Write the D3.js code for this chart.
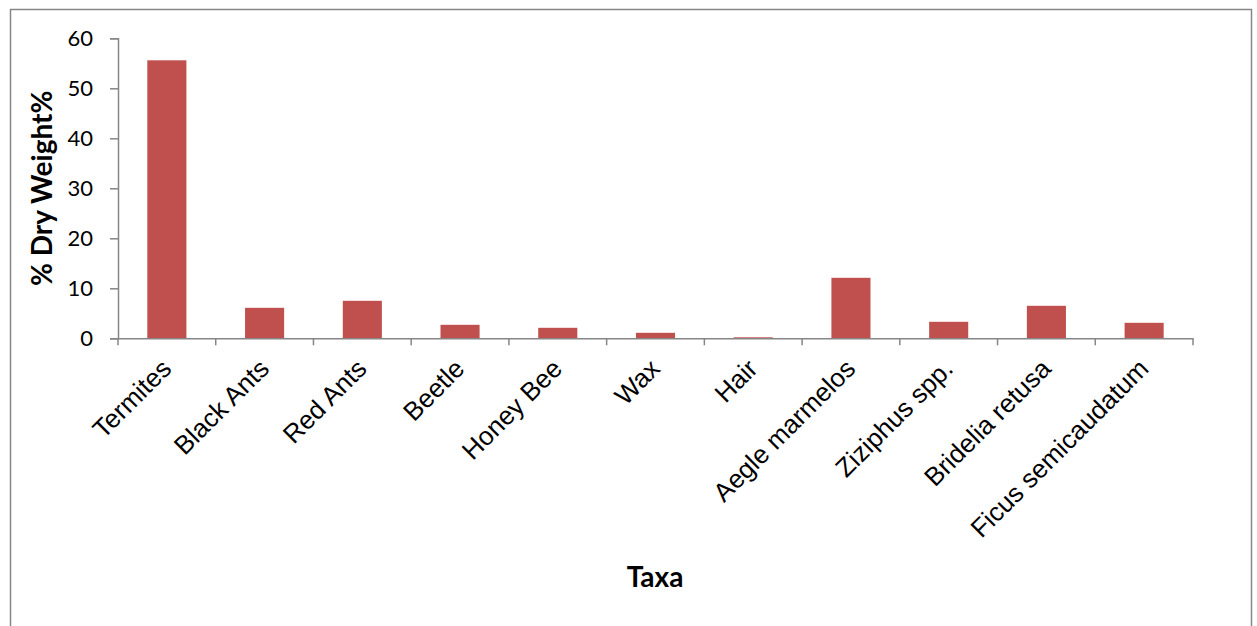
<!DOCTYPE html>
<html><head><meta charset="utf-8">
<script src="https://cdn.jsdelivr.net/npm/d3@7"></script>
<style>body{margin:0;background:#fff}svg{display:block}</style>
</head><body>
<script>
const categories = ["Termites","Black Ants","Red Ants","Beetle","Honey Bee","Wax","Hair","Aegle marmelos","Ziziphus spp.","Bridelia retusa","Ficus semicaudatum"];
const values = [55.6, 6.1, 7.5, 2.7, 2.1, 1.1, 0.2, 12.1, 3.3, 6.5, 3.1];
const yTicks = [0,10,20,30,40,50,60];
const yTitle = "% Dry Weight%";
const xTitle = "Taxa";

const W = 1257, H = 626;
const svg = d3.select("body").append("svg").attr("width", W).attr("height", H);
// outer border
svg.append("rect").attr("x",10.5).attr("y",9.5).attr("width",1241).attr("height",640)
  .attr("fill","#fff").attr("stroke","#868686").attr("stroke-width",1.5);

const pLeft = 118, pRight = 1193, pTop = 38.3, pBottom = 338.3;
const x = d3.scaleBand().domain(categories).range([pLeft,pRight]).paddingInner(0.6).paddingOuter(0.3);
const xb = d3.scaleBand().domain(categories).range([pLeft,pRight]);
const y = d3.scaleLinear().domain([0,60]).range([pBottom,pTop]);

svg.append("g").selectAll("rect").data(values).join("rect")
  .attr("x",(d,i)=>x(categories[i])).attr("width",x.bandwidth())
  .attr("y",d=>y(d)).attr("height",d=>pBottom-y(d)).attr("fill","#C0504D");

// y axis
const ya = svg.append("g").attr("transform",`translate(${pLeft},0)`)
  .call(d3.axisLeft(y).tickValues(yTicks).tickSize(8).tickPadding(17));
ya.select(".domain").attr("stroke","#868686").attr("stroke-width",1.5);
ya.selectAll(".tick line").attr("stroke","#868686").attr("stroke-width",1.5);
ya.selectAll("text").attr("font-family","Lato, 'Open Sans', sans-serif").attr("font-size",22).attr("fill","#000");

// x axis
const xa = svg.append("g").attr("transform",`translate(0,${pBottom})`)
  .call(d3.axisBottom(xb).tickSize(0).tickFormat(""));
xa.select(".domain").attr("stroke","#868686").attr("stroke-width",1.5);
const edges = categories.map(c=>xb(c)).concat([pRight]);
svg.append("g").selectAll("line").data(edges).join("line")
  .attr("x1",d=>d).attr("x2",d=>d).attr("y1",pBottom).attr("y2",pBottom+7)
  .attr("stroke","#868686").attr("stroke-width",1.5);

svg.append("g").selectAll("text").data(categories).join("text")
  .attr("transform",d=>`translate(${xb(d)+xb.bandwidth()/2+6},${pBottom+32}) rotate(-45)`)
  .attr("text-anchor","end").attr("font-family","'Liberation Sans', Arial, sans-serif")
  .attr("font-size",26).attr("fill","#000").text(d=>d);

svg.append("text").attr("transform",`translate(52,${(pTop+pBottom)/2}) rotate(-90)`)
  .attr("text-anchor","middle").attr("font-family","Lato, 'Open Sans', sans-serif")
  .attr("font-weight","bold").attr("font-size",28).text(yTitle);
svg.append("text").attr("x",655).attr("y",587).attr("text-anchor","middle")
  .attr("font-family","Lato, 'Open Sans', sans-serif")
  .attr("font-weight","bold").attr("font-size",28).text(xTitle);
</script>
</body></html>
